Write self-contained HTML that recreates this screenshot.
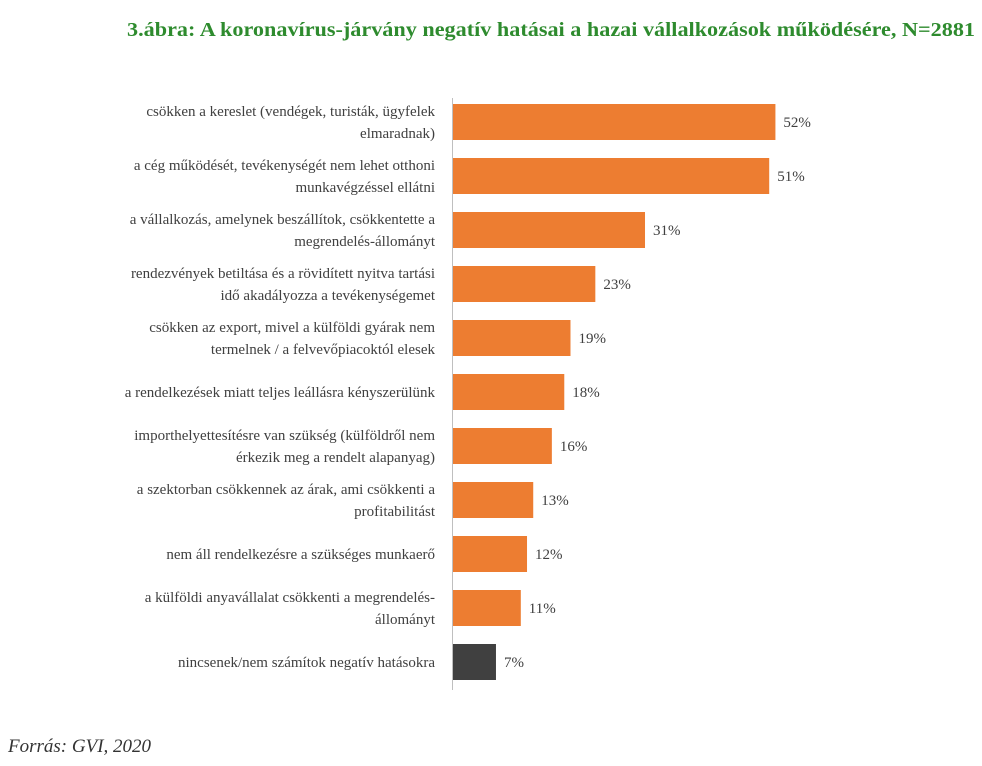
<!DOCTYPE html>
<html><head><meta charset="utf-8"><style>
body{margin:0;background:#fff;width:982px;height:761px;overflow:hidden;font-family:"Liberation Serif",serif}
</style></head><body>
<svg width="982" height="761" xmlns="http://www.w3.org/2000/svg">
<text x="975" y="36" text-anchor="end" font-family="Liberation Serif, serif" font-weight="bold" font-size="20" fill="#2E8B2E" textLength="848" lengthAdjust="spacingAndGlyphs">3.ábra: A koronavírus-járvány negatív hatásai a hazai vállalkozások működésére, N=2881</text>
<g id="bars"></g>
<line x1="452.5" y1="98" x2="452.5" y2="690" stroke="#bfbfbf" stroke-width="1"/>
<text x="8" y="752" font-family="Liberation Serif, serif" font-style="italic" font-size="19" fill="#333">Forrás: GVI, 2020</text>
</svg>
<script>
const categories=[
["csökken a kereslet (vendégek, turisták, ügyfelek","elmaradnak)"],
["a cég működését, tevékenységét nem lehet otthoni","munkavégzéssel ellátni"],
["a vállalkozás, amelynek beszállítok, csökkentette a","megrendelés-állományt"],
["rendezvények betiltása és a rövidített nyitva tartási","idő akadályozza a tevékenységemet"],
["csökken az export, mivel a külföldi gyárak nem","termelnek / a felvevőpiacoktól elesek"],
["a rendelkezések miatt teljes leállásra kényszerülünk"],
["importhelyettesítésre van szükség (külföldről nem","érkezik meg a rendelt alapanyag)"],
["a szektorban csökkennek az árak, ami csökkenti a","profitabilitást"],
["nem áll rendelkezésre a szükséges munkaerő"],
["a külföldi anyavállalat csökkenti a megrendelés-","állományt"],
["nincsenek/nem számítok negatív hatásokra"]];
const values=[52,51,31,23,19,18,16,13,12,11,7];
const valueLabels=["52%","51%","31%","23%","19%","18%","16%","13%","12%","11%","7%"];
(function(){
const NS="http://www.w3.org/2000/svg";
const g=document.getElementById('bars');
const x0=452.5, scale=6.21, firstTop=104, step=54, bh=36;
const xs=v=>v*scale;
const yc=i=>firstTop+i*step+bh/2;
function mk(t,a){const e=document.createElementNS(NS,t);for(const k in a)e.setAttribute(k,a[k]);return e;}
values.forEach((v,i)=>{
  const r=mk('rect',{x:x0,y:yc(i)-bh/2,width:xs(v),height:bh,fill:i===values.length-1?'#404040':'#ED7D31'});
  
  
  g.appendChild(r);
  const t=mk('text',{x:x0+xs(v)+8,y:yc(i)+5,'font-size':15,fill:'#404040'});
  t.textContent=valueLabels[i];
  
  
  g.appendChild(t);
  const lines=categories[i];
  const lt=mk('text',{'font-size':15,fill:'#404040','text-anchor':'end'});
  
  
  lines.forEach((s,j)=>{
    const ts=mk('tspan',{x:435,y:yc(i)+5+(j-(lines.length-1)/2)*22});
    ts.textContent=s;lt.appendChild(ts);
  });
  g.appendChild(lt);
});
})();
</script>
</body></html>
